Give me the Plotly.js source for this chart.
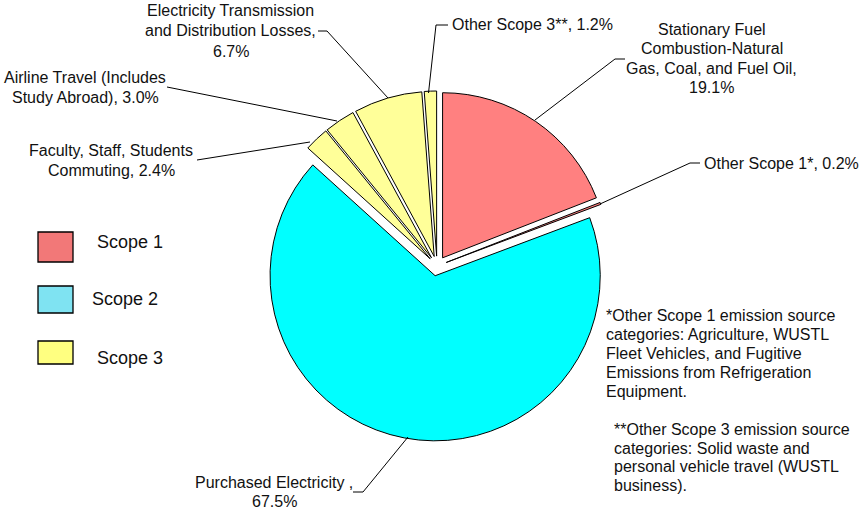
<!DOCTYPE html>
<html><head><meta charset="utf-8">
<script src="https://cdn.plot.ly/plotly-3.0.1.min.js"></script>
<style>html,body{margin:0;padding:0;background:#fff}</style>
</head><body><div id="chart" style="width:865px;height:515px"></div>
<script>
// ---- data ----
const categories = [
  'Stationary Fuel Combustion-Natural Gas, Coal, and Fuel Oil',
  'Other Scope 1*',
  'Purchased Electricity',
  'Faculty, Staff, Students Commuting',
  'Airline Travel (Includes Study Abroad)',
  'Electricity Transmission and Distribution Losses',
  'Other Scope 3**'
];
const values = [19.1, 0.2, 67.5, 2.4, 3.0, 6.7, 1.2];
const scopes = [1, 1, 2, 3, 3, 3, 3];
const labelHeads = [
  'Stationary Fuel<br>Combustion-Natural<br>Gas, Coal, and Fuel Oil,<br>',
  'Other Scope 1*, ',
  'Purchased Electricity ,<br>',
  'Faculty, Staff, Students<br>Commuting, ',
  'Airline Travel (Includes<br>Study Abroad), ',
  'Electricity Transmission<br>and Distribution Losses,<br>',
  'Other Scope 3**, '
];
const legendNames = ['Scope 1', 'Scope 2', 'Scope 3'];
const footnotes = [
  '*Other Scope 1 emission source<br>categories: Agriculture, WUSTL<br>Fleet Vehicles, and Fugitive<br>Emissions from Refrigeration<br>Equipment.',
  '**Other Scope 3 emission source<br>categories: Solid waste and<br>personal vehicle travel (WUSTL<br>business).'
];

// ---- styles / layout helpers ----
const W = 865, H = 515;
const px = x => x / W;
const py = y => 1 - y / H;
const scopeColors = {1: '#FF8080', 2: '#00FFFF', 3: '#FFFF99'};
const legendBoxColors = ['#F27878', '#7FE3F2', '#FFFF80'];
const FONT = 'Liberation Sans, Arial, sans-serif';
const TXT = '#111111';
const FS = 16;

// label placement (pixels): anchor, block center y, line height
const labelPos = [
  {x: 711.5, y: 58.5, xa: 'center', lh: 19.1},
  {x: 702, y: 163, xa: 'left', lh: 19},
  {x: 274, y: 492, xa: 'center', lh: 18.5},
  {x: 111.5, y: 160.5, xa: 'center', lh: 19.3},
  {x: 85, y: 87.5, xa: 'center', lh: 19.3},
  {x: 231, y: 31, xa: 'center', lh: 20},
  {x: 450, y: 25, xa: 'left', lh: 19}
];
const leaders = [
  [[625, 59], [615, 59], [535, 120]],
  [[700, 163], [690, 163], [600, 204]],
  [[353, 492], [363, 492], [408, 437]],
  [[197, 160], [310, 142]],
  [[167, 87], [337, 121]],
  [[318, 31], [327, 31], [388, 98]],
  [[448, 25], [436, 25], [428.5, 93]]
];

const pieTrace = {
  type: 'pie',
  labels: categories,
  values: values,
  sort: false,
  direction: 'clockwise',
  rotation: 0,
  pull: values.map(() => 0.06),
  textinfo: 'none',
  hoverinfo: 'label+percent',
  marker: {
    colors: scopes.map(s => scopeColors[s]),
    line: {color: '#000000', width: 1}
  },
  domain: {x: [px(262), px(612)], y: [py(441), py(91)]},
  showlegend: false
};

const annotations = [];
const shapes = [];

function addBlock(text, x, yc, xa, lh, size) {
  const lines = text.split('<br>');
  const n = lines.length;
  lines.forEach((ln, k) => {
    annotations.push({
      xref: 'paper', yref: 'paper',
      x: px(x), y: py(yc + (k - (n - 1) / 2) * lh),
      xanchor: xa, yanchor: 'middle', align: xa === 'left' ? 'left' : 'center',
      text: ln, showarrow: false,
      font: {family: FONT, size: size, color: TXT}
    });
  });
}

categories.forEach((c, i) => {
  const p = labelPos[i];
  addBlock(labelHeads[i] + values[i].toFixed(1) + '%', p.x, p.y, p.xa, p.lh, FS);
  const pts = leaders[i];
  let d = 'M ' + px(pts[0][0]) + ' ' + py(pts[0][1]);
  for (let k = 1; k < pts.length; k++) d += ' L ' + px(pts[k][0]) + ' ' + py(pts[k][1]);
  shapes.push({type: 'path', xref: 'paper', yref: 'paper', path: d,
    line: {color: '#000000', width: 1}});
});

// custom legend
const legBoxes = [[232, 262], [286, 313], [341, 364]];
const legText = [{x: 95, y: 242}, {x: 90, y: 299}, {x: 95, y: 358}];
legendNames.forEach((n, i) => {
  shapes.push({type: 'rect', xref: 'paper', yref: 'paper',
    x0: px(38), x1: px(73), y0: py(legBoxes[i][1]), y1: py(legBoxes[i][0]),
    fillcolor: legendBoxColors[i], line: {color: '#000000', width: 1.3}});
  annotations.push({xref: 'paper', yref: 'paper', x: px(legText[i].x), y: py(legText[i].y),
    xanchor: 'left', yanchor: 'middle', text: n, showarrow: false,
    font: {family: FONT, size: 18, color: TXT}});
});

// footnotes
const footPos = [{x: 604, y: 353, lh: 19}, {x: 612, y: 457.5, lh: 18.5}];
footnotes.forEach((t, i) => {
  addBlock(t, footPos[i].x, footPos[i].y, 'left', footPos[i].lh, FS);
});

const layout = {
  width: W, height: H,
  margin: {l: 0, r: 0, t: 0, b: 0},
  paper_bgcolor: '#ffffff',
  showlegend: false,
  annotations: annotations,
  shapes: shapes
};

Plotly.newPlot('chart', [pieTrace], layout, {displayModeBar: false, staticPlot: true});
</script>
</body></html>
